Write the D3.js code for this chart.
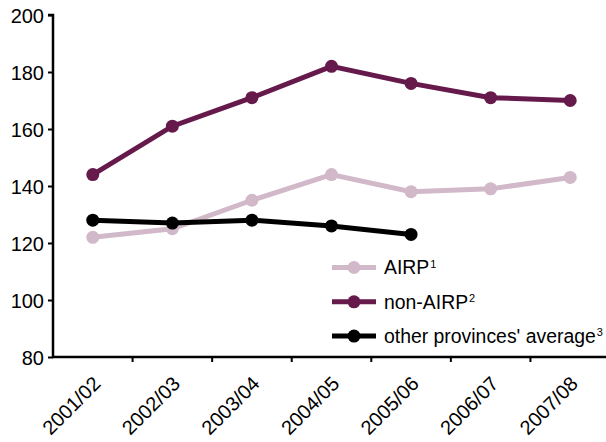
<!DOCTYPE html>
<html>
<head>
<meta charset="utf-8">
<script src="https://cdn.jsdelivr.net/npm/d3@7"></script>
<style>
  html, body { margin: 0; padding: 0; background: #fff; }
  svg { display: block; }
  text { font-family: "Liberation Sans", Arial, sans-serif; fill: #000; }
</style>
</head>
<body>
<svg id="chart" width="606" height="442"></svg>
<script>
// Fiscal years on the x axis
const years = ["2001/02", "2002/03", "2003/04", "2004/05", "2005/06", "2006/07", "2007/08"];
// Series values by year
const airp = [122, 125, 135, 144, 138, 139, 143];
const nonAirp = [144, 161, 171, 182, 176, 171, 170];
const otherProvinces = [128, 127, 128, 126, 123];
// Y axis ticks
const yTicks = [80, 100, 120, 140, 160, 180, 200];

const series = [
  { name: "AIRP", sup: "1", values: airp, color: "#d1b9c9" },
  { name: "non-AIRP", sup: "2", values: nonAirp, color: "#66194b" },
  { name: "other provinces' average", sup: "3", values: otherProvinces, color: "#000000" }
];

const svg = d3.select("#chart");
const plotLeft = 53, plotRight = 610, plotTop = 15, plotBottom = 357;

const x = d3.scaleBand().domain(years).range([plotLeft, plotRight]).padding(0);
const y = d3.scaleLinear().domain([80, 200]).range([plotBottom, plotTop]);

// Y axis
const yAxis = svg.append("g")
  .attr("transform", `translate(${plotLeft},0)`)
  .call(d3.axisLeft(y).tickValues(yTicks).tickSize(5).tickPadding(4));
yAxis.select(".domain").attr("stroke", "#000").attr("stroke-width", 2.5).attr("d", `M-5,${plotTop}H0V${plotBottom}`);
yAxis.selectAll(".tick line").attr("stroke", "#000").attr("stroke-width", 2);
yAxis.selectAll(".tick text").style("font-size", "20px").attr("dy", "0.35em");

// X axis with ticks on band boundaries
const xAxis = svg.append("g").attr("transform", `translate(0,${plotBottom})`);
xAxis.append("line")
  .attr("x1", plotLeft - 1).attr("x2", 606)
  .attr("stroke", "#000").attr("stroke-width", 2.5);
xAxis.selectAll("line.tk")
  .data(years.slice(1))
  .join("line")
  .attr("class", "tk")
  .attr("x1", d => x(d)).attr("x2", d => x(d))
  .attr("y1", 0).attr("y2", 5)
  .attr("stroke", "#000").attr("stroke-width", 2);
xAxis.selectAll("text")
  .data(years)
  .join("text")
  .attr("transform", d => `translate(${x(d) + x.bandwidth() / 2 + 9},28) rotate(-45)`)
  .attr("text-anchor", "end")
  .style("font-size", "20px")
  .text(d => d);

const cx = (i) => x(years[i]) + x.bandwidth() / 2;
const line = d3.line().x((d, i) => cx(i)).y(d => y(d));

// Series lines and markers, drawn light to dark
series.forEach(s => {
  const g = svg.append("g");
  g.append("path")
    .datum(s.values)
    .attr("d", line)
    .attr("fill", "none")
    .attr("stroke", s.color)
    .attr("stroke-width", 5);
  g.selectAll("circle")
    .data(s.values)
    .join("circle")
    .attr("cx", (d, i) => cx(i))
    .attr("cy", d => y(d))
    .attr("r", 6.5)
    .attr("fill", s.color);
});

// Legend
const legend = svg.append("g");
series.forEach((s, i) => {
  const ly = 267.5 + i * 34.3;
  const row = legend.append("g").attr("transform", `translate(332,${ly})`);
  row.append("line").attr("x1", 0).attr("x2", 44).attr("stroke", s.color).attr("stroke-width", 5);
  row.append("circle").attr("cx", 22).attr("r", 6.5).attr("fill", s.color);
  const t = row.append("text").attr("x", 52).attr("dy", "0.36em").style("font-size", "19.4px");
  t.append("tspan").text(s.name);
  t.append("tspan").attr("dx", "1").attr("dy", "-0.62em").style("font-size", "11px").text(s.sup);
});
</script>
</body>
</html>
